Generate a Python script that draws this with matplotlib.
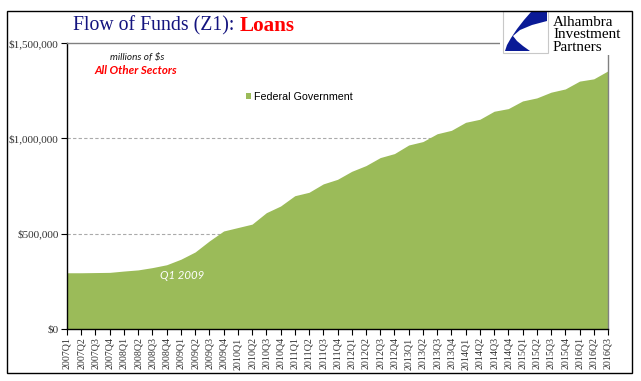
import matplotlib
matplotlib.use("Agg")
import matplotlib.pyplot as plt
from matplotlib.patches import Rectangle, Polygon, Patch
import numpy as np

quarters = [f"{y}Q{q}" for y in range(2007, 2017) for q in range(1, 5)][:39]
values = [295, 295, 296, 297, 304, 310, 322, 337, 366, 404, 462, 514, 532, 550,
          610, 645, 699, 717, 761, 785, 827, 857, 899, 920, 965, 983, 1024, 1042,
          1084, 1100, 1142, 1156, 1196, 1212, 1242, 1259, 1300, 1312, 1354]
values = [v * 1000 for v in values]
yticks = [0, 500000, 1000000, 1500000]
ytick_labels = ["$0", "$500,000", "$1,000,000", "$1,500,000"]
series_name = "Federal Government"

W, H = 641, 381
def fx(x): return x / W
def fy(y): return 1 - y / H

fig = plt.figure(figsize=(6.41, 3.81), dpi=100)
ax = fig.add_axes([fx(67), fy(329), (608 - 67) / W, (329 - 43) / H])

x = np.arange(len(values))
green = "#9BBB59"
ax.fill_between(x, values, 0, color=green, lw=0, zorder=2)
ax.set_xlim(0, len(values) - 1)
ax.set_ylim(0, 1500000)

ax.set_yticks(yticks)
ax.set_yticklabels(ytick_labels, family="Liberation Serif", fontsize=8.0, color="#333333")
ax.set_xticks(x)
ax.set_xticklabels(quarters, rotation=90, family="Liberation Serif", fontsize=7.2, color="#333333")
ax.tick_params(axis="both", direction="out", length=4, width=0.8, color="black", pad=2)

for yv in yticks[1:3]:
    ax.axhline(yv, color="#aaaaaa", lw=0.8, ls=(0, (3, 2)), zorder=1)
ax.spines["left"].set_color("black")
ax.spines["bottom"].set_color("black")
ax.spines["top"].set_color("#808080")
ax.spines["right"].set_color("#808080")
for s in ax.spines.values():
    s.set_linewidth(1.0)

# legend
leg = ax.legend(handles=[Patch(facecolor=green, edgecolor="none", label=series_name)],
                loc="center left", bbox_to_anchor=(fx(236), fy(97)),
                bbox_transform=fig.transFigure, frameon=False,
                handlelength=0.5, handleheight=0.5, handletextpad=0.3,
                prop={"family": "Liberation Sans", "size": 7.7})

# annotations
fig.text(fx(137), fy(60), "millions of $s", ha="center", va="baseline",
         family="Lato", style="italic", fontsize=7.2, color="#1a1a1a")
fig.text(fx(136), fy(73.7), "All Other Sectors", ha="center", va="baseline",
         family="Lato", style="italic", weight="bold", fontsize=8.3, color="#ff0000")
fig.text(fx(182), fy(279), "Q1 2009", ha="center", va="baseline",
         family="Lato", style="italic", fontsize=8.2, color="white")

# title
fig.text(fx(73), fy(30.7), "Flow of Funds (Z1): ", ha="left", va="baseline",
         family="Liberation Serif", fontsize=14.2, color="#14147F")
fig.text(fx(240), fy(30.7), "Loans", ha="left", va="baseline",
         family="Liberation Serif", fontsize=15.2, weight="bold", color="#ff0000")

# logo
fig.patches.append(Rectangle((fx(500), fy(55)), (630 - 500) / W, (55 - 12) / H,
                             transform=fig.transFigure, facecolor="white",
                             edgecolor="none", zorder=5))
fig.patches.append(Rectangle((fx(503), fy(53)), (548 - 503) / W, (53 - 11) / H,
                             transform=fig.transFigure, facecolor="white",
                             edgecolor="#c8c8c8", lw=0.8, zorder=6))
pts = [(547, 12), (531, 12), (524, 20), (517, 29), (511, 38), (507, 45), (505, 51),
       (530, 51), (523, 46), (517, 41), (513, 36), (520, 30), (532, 25), (547, 21)]
fig.patches.append(Polygon([(fx(a), fy(b)) for a, b in pts], closed=True,
                           transform=fig.transFigure, facecolor="#0a1a96",
                           edgecolor="none", zorder=7))
for i, word in enumerate(["Alhambra", "Investment", "Partners"]):
    fig.text(fx(553), fy(25.5 + 12.8 * i), word, ha="left", va="baseline",
             family="Liberation Serif", fontsize=10.9, color="black", zorder=8)

# outer border
fig.patches.append(Rectangle((fx(7), fy(373)), (632 - 7) / W, (373 - 10.7) / H,
                             transform=fig.transFigure, fill=False,
                             edgecolor="black", lw=1.0, zorder=10))

fig.savefig("out.png", dpi=100)
